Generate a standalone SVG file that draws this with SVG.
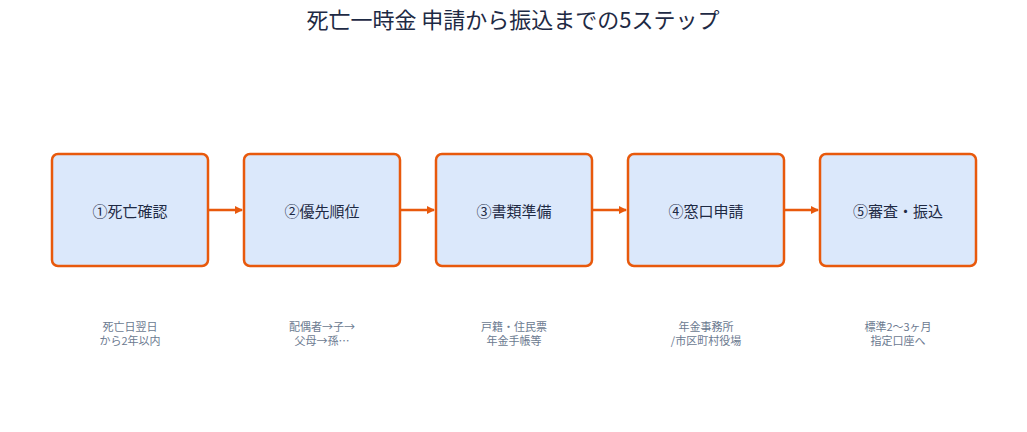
<svg xmlns="http://www.w3.org/2000/svg" width="1027" height="432" viewBox="0 0 1027 432">
<style>
.n rect{fill:#dbe8fb;stroke:#e8590c;stroke-width:2.5}
.t{font-family:"Noto Sans CJK JP","Noto Sans",sans-serif;font-size:15px;fill:#1e2a44;text-anchor:middle;dominant-baseline:central}
.s{font-family:"Noto Sans CJK JP","Noto Sans",sans-serif;font-size:11px;fill:#6b7a90;text-anchor:middle}
.c line{stroke:#e8590c;stroke-width:2.5}
</style>
<defs><marker id="a" markerWidth="8" markerHeight="8" refX="7" refY="4" orient="auto" markerUnits="userSpaceOnUse"><path d="M0,0L8,4L0,8z" fill="#e8590c"/></marker></defs>
<rect width="1027" height="432" fill="#fff"/>
<text x="513" y="28" style="font-family:'Noto Sans CJK JP','Noto Sans',sans-serif;font-size:22px;fill:#1e2a44;text-anchor:middle">死亡一時金 申請から振込までの5ステップ</text>
<g class="c">
<line x1="209" y1="210" x2="242" y2="210" marker-end="url(#a)"/>
<line x1="401" y1="210" x2="434" y2="210" marker-end="url(#a)"/>
<line x1="593" y1="210" x2="626" y2="210" marker-end="url(#a)"/>
<line x1="785" y1="210" x2="818" y2="210" marker-end="url(#a)"/>
</g>
<g id="n1" class="n"><rect x="52" y="154" width="156" height="112" rx="6"/><text class="t" x="130" y="210">①死亡確認</text><text class="s" x="130" y="331">死亡日翌日</text><text class="s" x="130" y="345">から2年以内</text></g>
<g id="n2" class="n"><rect x="244" y="154" width="156" height="112" rx="6"/><text class="t" x="322" y="210">②優先順位</text><text class="s" x="322" y="331">配偶者→子→</text><text class="s" x="322" y="345">父母→孫…</text></g>
<g id="n3" class="n"><rect x="436" y="154" width="156" height="112" rx="6"/><text class="t" x="514" y="210">③書類準備</text><text class="s" x="514" y="331">戸籍・住民票</text><text class="s" x="514" y="345">年金手帳等</text></g>
<g id="n4" class="n"><rect x="628" y="154" width="156" height="112" rx="6"/><text class="t" x="706" y="210">④窓口申請</text><text class="s" x="706" y="331">年金事務所</text><text class="s" x="706" y="345">/市区町村役場</text></g>
<g id="n5" class="n"><rect x="820" y="154" width="156" height="112" rx="6"/><text class="t" x="898" y="210">⑤審査・振込</text><text class="s" x="898" y="331">標準2〜3ヶ月</text><text class="s" x="898" y="345">指定口座へ</text></g>
</svg>
